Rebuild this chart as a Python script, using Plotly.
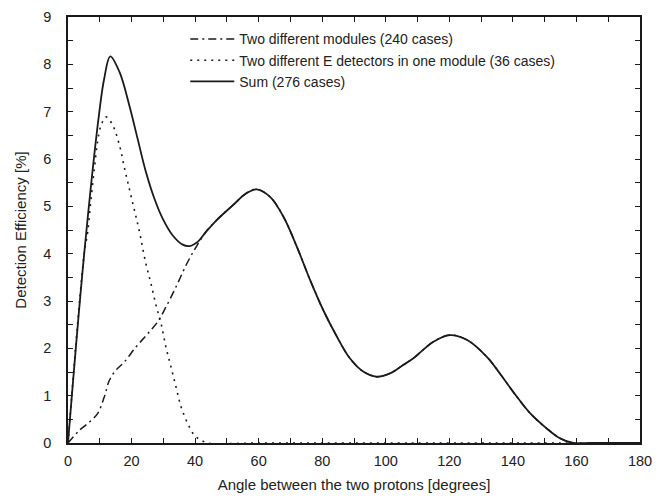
import plotly.graph_objects as go

# Angle between the two protons [degrees] and detection efficiency [%]
mod_x = [0, 3.6, 6.7, 9.3, 11.4, 13.0, 15.1, 17.7, 21.4, 25.1, 28.2, 30.8, 34.0, 37.1,
         40.3, 43.4, 46.8, 52.0, 56.2, 59.4, 63.6, 67.8, 72.0, 76.2, 80.3, 84.6, 88.7,
         92.9, 97.1, 101.3, 105.5, 108.7, 115.0, 120.2, 125.5, 131.8, 135.9, 140.1,
         145.4, 150.6, 154.8, 159.0, 165, 180]
mod_y = [0, 0.27, 0.44, 0.62, 0.97, 1.32, 1.54, 1.71, 2.03, 2.31, 2.56, 2.87, 3.30, 3.75,
         4.14, 4.46, 4.71, 5.03, 5.28, 5.36, 5.20, 4.78, 4.15, 3.44, 2.81, 2.25, 1.79,
         1.51, 1.40, 1.47, 1.65, 1.79, 2.14, 2.28, 2.18, 1.82, 1.47, 1.08,
         0.63, 0.31, 0.10, 0.0, 0.0, 0.0]

edet_x = [0, 5.1, 6.2, 7.2, 8.3, 9.3, 10.4, 12.0, 14.1, 16.2, 17.7, 19.3, 20.9, 22.4,
          24.5, 26.1, 27.7, 29.3, 30.8, 32.4, 34.0, 35.6, 37.7, 39.8, 41.9, 44, 60, 100, 180]
edet_y = [0, 4.00, 4.46, 5.13, 5.80, 6.36, 6.71, 6.89, 6.71, 6.29, 5.83, 5.37, 4.92, 4.49,
          3.79, 3.37, 2.91, 2.52, 2.03, 1.61, 1.18, 0.76, 0.41, 0.16, 0.06, 0.0, 0.0, 0.0, 0.0]

sum_x = [0, 5.1, 9.85, 11.4, 13.3, 16.2, 19.3, 21.9, 24.5, 27.2, 29.8, 32.9, 36.1, 38.2,
         40.8, 43.4, 46.8, 52.0, 56.2, 59.4, 63.6, 67.8, 72.0, 76.2, 80.3, 84.6, 88.7,
         92.9, 97.1, 101.3, 105.5, 108.7, 115.0, 120.2, 125.5, 131.8, 135.9, 140.1,
         145.4, 150.6, 154.8, 159.0, 165, 180]
sum_y = [0, 4.00, 6.99, 7.70, 8.17, 7.84, 7.13, 6.43, 5.73, 5.16, 4.74, 4.39, 4.19, 4.16,
         4.25, 4.46, 4.71, 5.03, 5.28, 5.36, 5.20, 4.78, 4.15, 3.44, 2.81, 2.25, 1.79,
         1.51, 1.40, 1.47, 1.65, 1.79, 2.14, 2.28, 2.18, 1.82, 1.47, 1.08,
         0.63, 0.31, 0.10, 0.0, 0.0, 0.0]

names = ["Two different modules (240 cases)",
         "Two different E detectors in one module (36 cases)",
         "Sum (276 cases)"]

x_ticks = [0, 20, 40, 60, 80, 100, 120, 140, 160, 180]
y_ticks = [0, 1, 2, 3, 4, 5, 6, 7, 8, 9]

ink = "#1a1a1a"
font_family = "Liberation Sans, Arial, sans-serif"
fig = go.Figure()
fig.add_trace(go.Scatter(x=mod_x, y=mod_y, mode="lines", name=names[0],
                         line=dict(color=ink, width=1.5, dash="8px,4px,2px,4px",
                                   shape="spline", smoothing=1.0)))
fig.add_trace(go.Scatter(x=edet_x, y=edet_y, mode="lines", name=names[1],
                         line=dict(color=ink, width=1.6, dash="2px,5px",
                                   shape="spline", smoothing=1.0)))
fig.add_trace(go.Scatter(x=sum_x, y=sum_y, mode="lines", name=names[2],
                         line=dict(color=ink, width=1.8, shape="spline", smoothing=1.0)))

axis_common = dict(showgrid=False, zeroline=False, showline=True, linecolor=ink, linewidth=1.5,
                   mirror="ticks", ticks="inside", ticklen=5, tickwidth=1, tickcolor=ink,
                   automargin=False,
                   tickfont=dict(family=font_family, size=14.5, color="#222"))

fig.update_xaxes(range=[0, 180], tickvals=x_ticks, ticktext=[str(v) for v in x_ticks],
                 ticklabelstandoff=4,
                 minor=dict(dtick=10, ticks="inside", ticklen=5, tickcolor=ink, tickwidth=1),
                 title=dict(text="Angle between the two protons [degrees]", standoff=11,
                            font=dict(family=font_family, size=15, color="#222")),
                 **axis_common)
fig.update_yaxes(range=[0, 9], tickvals=y_ticks, ticktext=[str(v) for v in y_ticks],
                 ticklabelstandoff=12,
                 minor=dict(dtick=0.5, ticks="inside", ticklen=5, tickcolor=ink, tickwidth=1),
                 title=dict(text="Detection Efficiency [%]", standoff=13,
                            font=dict(family=font_family, size=15, color="#222")),
                 **axis_common)

fig.update_layout(
    width=662, height=500,
    margin=dict(l=68, r=22, t=17, b=57),
    paper_bgcolor="white", plot_bgcolor="white",
    showlegend=True,
    legend=dict(x=0.205, y=0.985, xanchor="left", yanchor="top", bgcolor="rgba(0,0,0,0)",
                font=dict(family=font_family, size=14, color="#222"),
                tracegroupgap=0, itemwidth=44),
)

fig.write_html("out.html", config={"displayModeBar": False},
               post_script="document.body.style.margin='0';")
